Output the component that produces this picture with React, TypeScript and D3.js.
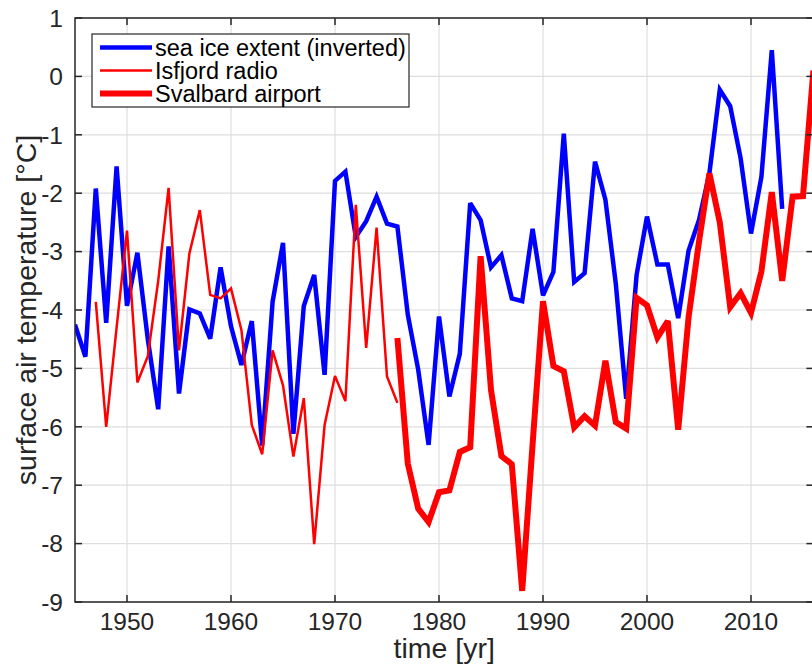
import React from "react";
import * as d3 from "d3";

const seaIceStart = 1945;
const seaIce = [
  -4.25, -4.8, -1.92, -4.22, -1.54, -3.93, -3.02, -4.5, -5.7, -2.91,
  -5.43, -3.99, -4.06, -4.49, -3.27, -4.28, -4.94, -4.19, -6.32, -3.86,
  -2.85, -6.12, -3.93, -3.4, -5.11, -1.79, -1.63, -2.75, -2.48, -2.06,
  -2.52, -2.57, -4.08, -5.02, -6.31, -4.11, -5.48, -4.75, -2.17, -2.46,
  -3.27, -3.06, -3.8, -3.85, -2.61, -3.75, -3.35, -0.98, -3.52, -3.37,
  -1.46, -2.11, -3.55, -5.52, -3.4, -2.4, -3.22, -3.22, -4.14, -2.98,
  -2.46, -1.66, -0.23, -0.51, -1.4, -2.69, -1.72, 0.45, -2.27,
];

const isfjordStart = 1947;
const isfjord = [
  -3.86, -6.0, -4.3, -2.64, -5.24, -4.79, -3.5, -1.91, -4.69, -3.03,
  -2.29, -3.74, -3.8, -3.63, -4.34, -5.97, -6.47, -4.69, -5.29, -6.51,
  -5.51, -8.01, -5.97, -5.13, -5.56, -2.2, -4.65, -2.59, -5.14, -5.59,
];

const svalbardStart = 1976;
const svalbard = [
  -4.48, -6.63, -7.4, -7.63, -7.12, -7.09, -6.43, -6.35, -3.08, -5.37,
  -6.5, -6.64, -8.81, -6.3, -3.85, -4.96, -5.05, -6.01, -5.82, -5.98,
  -4.87, -5.92, -6.03, -3.79, -3.92, -4.47, -4.19, -6.05, -4.12, -2.83,
  -1.66, -2.5, -3.95, -3.71, -4.05, -3.34, -1.98, -3.5, -2.06, -2.05, 0.1,
];

const xTicks = [1950, 1960, 1970, 1980, 1990, 2000, 2010];
const yTicks = [1, 0, -1, -2, -3, -4, -5, -6, -7, -8, -9];

const legendLabels = ["sea ice extent (inverted)", "Isfjord radio", "Svalbard airport"];

const W = 812;
const H = 666;
const left = 75;
const right = 813.4;
const top = 18;
const bottom = 602;

const FONT = "'Liberation Sans', Arial, Helvetica, sans-serif";
const AX = "#262626";

export default function App() {
  const x = d3.scaleLinear().domain([1945, 2016]).range([left, right]);
  const y = d3.scaleLinear().domain([-9, 1]).range([bottom, top]);

  const toPts = (start: number, vals: number[]) =>
    vals.map((v, i) => [start + i, v] as [number, number]);

  const line = d3
    .line<[number, number]>()
    .x((d) => x(d[0]))
    .y((d) => y(d[1]));

  const series = [
    { pts: toPts(seaIceStart, seaIce), color: "#0000ff", w: 4.5 },
    { pts: toPts(isfjordStart, isfjord), color: "#ff0000", w: 2.5 },
    { pts: toPts(svalbardStart, svalbard), color: "#ff0000", w: 6 },
  ];

  const tickLen = 7;
  const legX = 92;
  const legY = 34;
  const legW = 317;
  const legH = 73;
  const rowY = [47.5, 70.5, 93.5];

  return (
    <svg
      width={W}
      height={H}
      style={{ position: "absolute", left: 0, top: 0, background: "#fff" }}
      fontFamily={FONT}
    >
      <defs>
        <clipPath id="plotclip">
          <rect x={left} y={top} width={right - left} height={bottom - top} />
        </clipPath>
      </defs>
      <rect x={0} y={0} width={W} height={H} fill="#fff" />
      {/* grid */}
      <g stroke="#dedede" strokeWidth={1.2}>
        {xTicks.map((t) => (
          <line key={"gx" + t} x1={x(t)} x2={x(t)} y1={top} y2={bottom} />
        ))}
        {yTicks.map((t) => (
          <line key={"gy" + t} x1={left} x2={right} y1={y(t)} y2={y(t)} />
        ))}
      </g>
      {/* data */}
      <g clipPath="url(#plotclip)" fill="none">
        {series.map((s, i) => (
          <path
            key={i}
            d={line(s.pts) || ""}
            stroke={s.color}
            strokeWidth={s.w}
            strokeLinejoin="miter"
            strokeMiterlimit={3}
          />
        ))}
      </g>
      {/* axes box */}
      <rect
        x={left}
        y={top}
        width={right - left}
        height={bottom - top}
        fill="none"
        stroke={AX}
        strokeWidth={1.5}
      />
      {/* ticks */}
      <g stroke={AX} strokeWidth={1.5}>
        {xTicks.map((t) => (
          <g key={"tx" + t}>
            <line x1={x(t)} x2={x(t)} y1={bottom} y2={bottom - tickLen} />
            <line x1={x(t)} x2={x(t)} y1={top} y2={top + tickLen} />
          </g>
        ))}
        {yTicks.map((t) => (
          <g key={"ty" + t}>
            <line x1={left} x2={left + tickLen} y1={y(t)} y2={y(t)} />
            <line x1={right} x2={right - tickLen} y1={y(t)} y2={y(t)} />
          </g>
        ))}
      </g>
      {/* tick labels */}
      <g fill={AX} fontSize={24.5}>
        {xTicks.map((t) => (
          <text key={"lx" + t} x={x(t)} y={630} textAnchor="middle">
            {t}
          </text>
        ))}
        {yTicks.map((t) => (
          <text key={"ly" + t} x={63} y={y(t) + 8.7} textAnchor="end">
            {t}
          </text>
        ))}
      </g>
      {/* axis labels */}
      <text x={(left + right) / 2} y={658} textAnchor="middle" fontSize={28.5} fill={AX}>
        time [yr]
      </text>
      <text
        transform={`translate(36,${(top + bottom) / 2}) rotate(-90)`}
        textAnchor="middle"
        fontSize={28.5}
        fill={AX}
      >
        surface air temperature [°C]
      </text>
      {/* legend */}
      <rect x={legX} y={legY} width={legW} height={legH} fill="#fff" stroke={AX} strokeWidth={1.2} />
      {series.map((s, i) => (
        <g key={"leg" + i}>
          <line x1={100} x2={152} y1={rowY[i]} y2={rowY[i]} stroke={s.color} strokeWidth={s.w} />
          <text x={155} y={rowY[i] + 8.3} fontSize={23.5} fill="#000">
            {legendLabels[i]}
          </text>
        </g>
      ))}
    </svg>
  );
}
